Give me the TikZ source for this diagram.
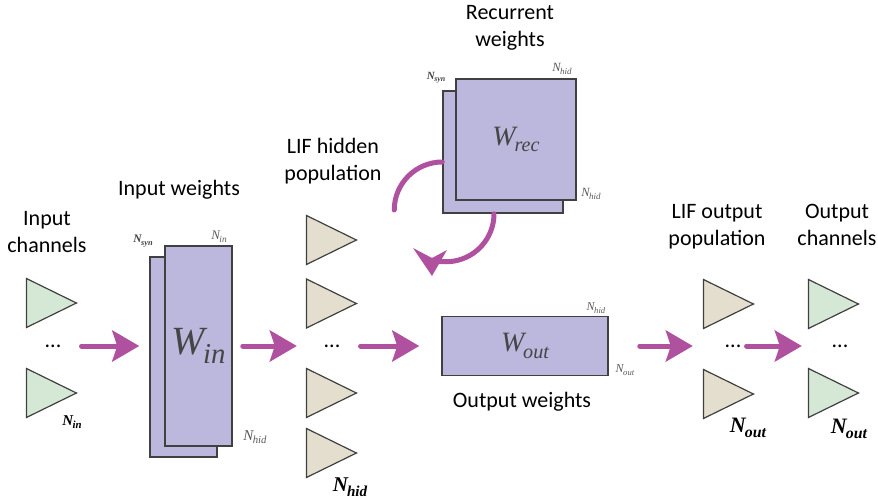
\documentclass[tikz,border=0pt]{standalone}
\usepackage{amsmath,amssymb,graphicx}
\usepackage{fontspec}
\setmainfont{Carlito}
\newfontfamily\timesfam{Liberation Serif}
\usetikzlibrary{positioning,arrows.meta,shapes.geometric}

\definecolor{chgreen}{HTML}{D5E8D6}
\definecolor{lifbeige}{HTML}{E4DECE}
\definecolor{wpurple}{HTML}{BCB7DC}
\definecolor{flowpink}{HTML}{B0519F}
\definecolor{edgegray}{HTML}{404040}
\definecolor{wtext}{HTML}{454545}
\definecolor{dimgray}{HTML}{5A5A5A}

% italic symbol with subscript, plain and bold
\newcommand{\isym}[2]{{\timesfam\itshape #1\kern-0.04em\raisebox{-0.22em}{\scalebox{0.72}{#2}}}}
\newcommand{\bsym}[2]{{\timesfam\bfseries\itshape #1\kern-0.04em\raisebox{-0.22em}{\scalebox{0.72}{#2}}}}

\tikzset{
  neuron/.style={isosceles triangle, isosceles triangle stretches, shape border rotate=0,
    minimum width=49pt, minimum height=50pt, inner sep=0pt, draw=edgegray, line width=1.2pt, anchor=apex},
  chan/.style={neuron, fill=chgreen},
  lif/.style={neuron, fill=lifbeige},
  wbox/.style={draw=edgegray, fill=wpurple, line width=1.5pt, inner sep=0pt, text=wtext},
  flow/.style={line width=5pt, draw=flowpink, line cap=round, -{Stealth[length=27pt,width=31pt,inset=5pt]}},
  recur/.style={line width=5pt, draw=flowpink, line cap=round},
  lbl/.style={font=\fontsize{22}{27}\selectfont, align=center, anchor=base, inner sep=0pt},
  dimlbl/.style={font=\fontsize{12.5}{12.5}\selectfont, text=dimgray, inner sep=0pt},
  ellip/.style={font=\fontsize{22}{22}\selectfont, inner sep=0pt}
}

\begin{document}
\begin{tikzpicture}[x=1pt,y=-1pt]
\useasboundingbox (0,0) rectangle (878,500);

% input channels
\node[lbl] (inlbl) at (47,252) {Input\\channels};
\node[chan] (in1) at (78,303) {};
\node[chan] (in2) at (78,393) {};
\node[ellip] (indots) at (53,346) {...};
\node[inner sep=0pt,font=\fontsize{15}{15}\selectfont] (inN) at (72,422) {\bsym{N}{in}};

% input weights
\node[lbl] (winlbl) at (179,195) {Input weights};
\node[wbox, minimum width=67pt, minimum height=200pt] (winback) at (183.5,357) {};
\node[wbox, minimum width=67pt, minimum height=200pt, font=\fontsize{40}{40}\selectfont] (win) at (198.5,346) {\isym{W}{in}};
\node[dimlbl, text=edgegray, font=\fontsize{11.5}{11.5}\selectfont] (winsyn) at (143,241) {\bsym{N}{syn}};
\node[dimlbl, font=\fontsize{13}{13}\selectfont] (winin) at (219,237) {\isym{N}{in}};
\node[dimlbl, font=\fontsize{15}{15}\selectfont] (winhid) at (255,437) {\isym{N}{hid}};

% LIF hidden population
\node[lbl] (hidlbl) at (333,180) {LIF hidden\\population};
\node[lif] (hid1) at (358,240) {};
\node[lif] (hid2) at (358,303.5) {};
\node[lif] (hid3) at (358,393) {};
\node[lif] (hid4) at (358,453) {};
\node[ellip] (hiddots) at (332,346) {...};
\node[inner sep=0pt,font=\fontsize{21}{21}\selectfont] (hidN) at (350,487) {\bsym{N}{hid}};

% recurrent weights
\node[lbl] (reclbl) at (510,47) {Recurrent\\weights};
\node[wbox, minimum width=120pt, minimum height=122pt] (wrecback) at (503,152) {};
\node[wbox, minimum width=120pt, minimum height=121pt, font=\fontsize{28}{28}\selectfont] (wrec) at (516,139.5) {\isym{W}{rec}};
\node[dimlbl, text=edgegray, font=\fontsize{11}{11}\selectfont] (recsyn) at (436,78) {\bsym{N}{syn}};
\node[dimlbl] (rechid1) at (562,69) {\isym{N}{hid}};
\node[dimlbl] (rechid2) at (591,194) {\isym{N}{hid}};

%rec loop
\draw[recur] ([yshift=-10pt]wrecback.west) arc[start angle=270, end angle=180, radius=48];
\draw[recur] ([xshift=-9pt]wrecback.south) arc[start angle=0, end angle=100, radius=48];
\coordinate (rectip) at (432,276);
\fill[flowpink] (rectip) -- (447,250) -- (432,258) -- (413,248) -- cycle;

% output weights
\node[wbox, minimum width=166pt, minimum height=59pt, font=\fontsize{28}{28}\selectfont] (wout) at (525,346) {\isym{W}{out}};
\node[lbl] (woutlbl) at (522,407) {Output weights};
\node[dimlbl, font=\fontsize{12}{12}\selectfont] (outhid) at (596,308) {\isym{N}{hid}};
\node[dimlbl, font=\fontsize{12}{12}\selectfont] (outout) at (625,370) {\isym{N}{out}};

% LIF output population
\node[lbl] (loutlbl) at (717,245) {LIF output\\population};
\node[lif] (lout1) at (755,304) {};
\node[lif] (lout2) at (755,394) {};
\node[ellip] (loutdots) at (733,346) {...};
\node[inner sep=0pt,font=\fontsize{22}{22}\selectfont] (loutN) at (748,428) {\bsym{N}{out}};

% output channels
\node[lbl] (outlbl) at (837,245) {Output\\channels};
\node[chan] (out1) at (860,304) {};
\node[chan] (out2) at (860,393) {};
\node[ellip] (outdots) at (840,346) {...};
\node[inner sep=0pt,font=\fontsize{22}{22}\selectfont] (outN) at (849,429) {\bsym{N}{out}};

% flow arrows
\draw[flow, shorten <=20pt, shorten >=10pt] (indots.east) -- (winback.west |- indots.east);
\draw[flow, shorten <=10pt, shorten >=9pt] (win.east) -- (hid2.west |- win.east);
\draw[flow, shorten <=20pt, shorten >=22pt] (hiddots.east) -- (wout.west |- hiddots.east);
\draw[flow, shorten <=31pt, shorten >=10pt] (wout.east) -- (lout1.west |- wout.east);
\draw[flow, shorten <=5pt, shorten >=6pt] (loutdots.east) -- (out1.west |- loutdots.east);
\end{tikzpicture}
\end{document}
